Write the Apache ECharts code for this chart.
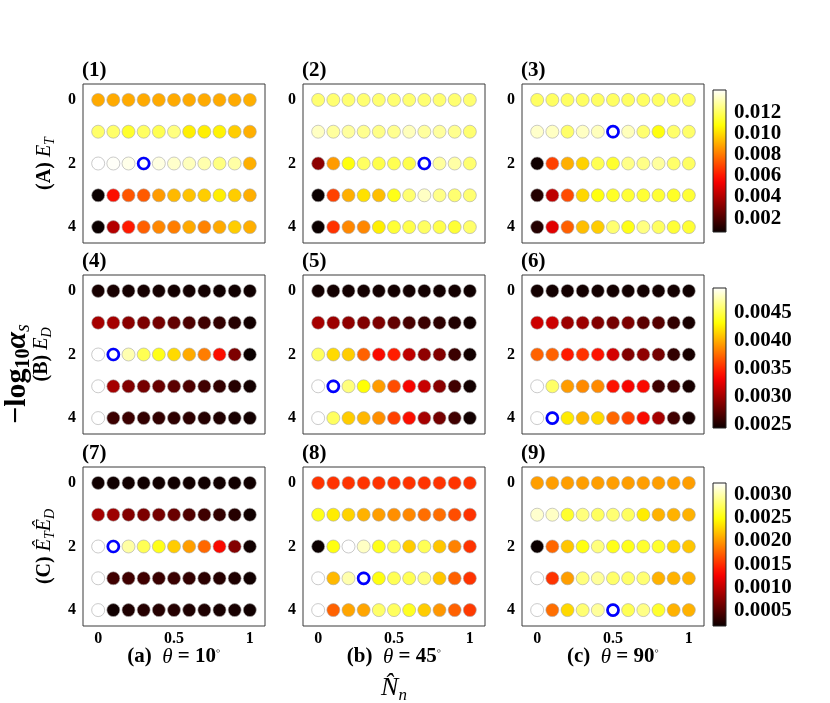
<!DOCTYPE html>
<html><head><meta charset="utf-8">
<script src="https://cdn.jsdelivr.net/npm/echarts@6/dist/echarts.min.js"></script>
<style>html,body{margin:0;padding:0;background:#fff}#c{width:830px;height:703px}</style>
</head><body><div id="c"></div>
<script>
// ---------------- data ----------------
const xValues = [0, 0.1, 0.2, 0.3, 0.4, 0.5, 0.6, 0.7, 0.8, 0.9, 1];
const yValues = [0, 1, 2, 3, 4];

// (1) E_T, theta=10
const p1 = [
  [0.0090,0.0090,0.0090,0.0090,0.0090,0.0090,0.0090,0.0090,0.0090,0.0090,0.0091],
  [0.0121,0.0121,0.0113,0.0120,0.0118,0.0124,0.0104,0.0104,0.0105,0.0097,0.0091],
  [0.0141,0.0140,0.0138,0.0137,0.0137,0.0134,0.0132,0.0130,0.0124,0.0129,0.0091],
  [0.0007,0.0058,0.0073,0.0074,0.0087,0.0093,0.0095,0.0097,0.0104,0.0097,0.0091],
  [0.0007,0.0041,0.0061,0.0075,0.0083,0.0081,0.0090,0.0082,0.0090,0.0097,0.0091]
];
// (2) E_T, theta=45
const p2 = [
  [0.0122,0.0122,0.0122,0.0122,0.0122,0.0122,0.0122,0.0122,0.0122,0.0122,0.0122],
  [0.0133,0.0128,0.0128,0.0126,0.0125,0.0126,0.0132,0.0128,0.0128,0.0126,0.0122],
  [0.0033,0.0087,0.0109,0.0120,0.0117,0.0118,0.0117,0.0134,0.0128,0.0129,0.0122],
  [0.0007,0.0069,0.0091,0.0101,0.0094,0.0110,0.0122,0.0133,0.0125,0.0122,0.0122],
  [0.0007,0.0066,0.0083,0.0083,0.0104,0.0114,0.0117,0.0120,0.0117,0.0114,0.0121]
];
// (3) E_T, theta=90
const p3 = [
  [0.0120,0.0120,0.0120,0.0120,0.0120,0.0120,0.0120,0.0120,0.0120,0.0120,0.0120],
  [0.0134,0.0133,0.0121,0.0133,0.0132,0.0137,0.0132,0.0122,0.0109,0.0121,0.0121],
  [0.0008,0.0069,0.0091,0.0098,0.0118,0.0113,0.0125,0.0125,0.0128,0.0121,0.0120],
  [0.0012,0.0043,0.0071,0.0099,0.0109,0.0112,0.0114,0.0114,0.0114,0.0112,0.0114],
  [0.0012,0.0050,0.0075,0.0094,0.0097,0.0122,0.0110,0.0124,0.0120,0.0114,0.0114]
];
// (4) E_D, theta=10
const p4 = [
  [0.00248,0.00248,0.00247,0.00247,0.00247,0.00246,0.00246,0.00246,0.00245,0.00245,0.00245],
  [0.00301,0.00301,0.00291,0.00286,0.00283,0.00276,0.00268,0.00263,0.00258,0.00253,0.00246],
  [0.00495,0.00495,0.00475,0.00452,0.00437,0.00417,0.00399,0.00382,0.00339,0.00286,0.00243],
  [0.00495,0.00301,0.00288,0.00283,0.00278,0.00273,0.00268,0.00263,0.00258,0.00253,0.00246],
  [0.00495,0.00261,0.00261,0.00258,0.00258,0.00256,0.00256,0.00253,0.00251,0.00248,0.00246]
];
// (5) E_D, theta=45
const p5 = [
  [0.00246,0.00246,0.00246,0.00246,0.00246,0.00246,0.00246,0.00246,0.00246,0.00246,0.00245],
  [0.00301,0.00298,0.00293,0.00288,0.00286,0.00276,0.00266,0.00261,0.00256,0.00251,0.00246],
  [0.00455,0.00417,0.00412,0.00372,0.00336,0.00346,0.00311,0.00293,0.00288,0.00261,0.00246],
  [0.00495,0.00490,0.00462,0.00432,0.00394,0.00364,0.00334,0.00314,0.00291,0.00263,0.00246],
  [0.00495,0.00455,0.00412,0.00404,0.00389,0.00359,0.00339,0.00301,0.00283,0.00263,0.00246]
];
// (6) E_D, theta=90
const p6 = [
  [0.00246,0.00246,0.00246,0.00246,0.00246,0.00246,0.00246,0.00246,0.00246,0.00246,0.00245],
  [0.00316,0.00316,0.00298,0.00298,0.00288,0.00283,0.00286,0.00273,0.00271,0.00258,0.00248],
  [0.00372,0.00372,0.00344,0.00354,0.00341,0.00319,0.00288,0.00293,0.00283,0.00258,0.00248],
  [0.00495,0.00457,0.00394,0.00387,0.00387,0.00341,0.00334,0.00336,0.00263,0.00263,0.00248],
  [0.00495,0.00490,0.00424,0.00402,0.00417,0.00374,0.00359,0.00336,0.00301,0.00263,0.00248]
];
// (7) E_T*E_D, theta=10
const p7 = [
  [0.00021,0.00021,0.00021,0.00021,0.00021,0.00021,0.00021,0.00021,0.00021,0.00021,0.00021],
  [0.00088,0.00085,0.00073,0.00070,0.00067,0.00061,0.00049,0.00042,0.00036,0.00030,0.00021],
  [0.00324,0.00318,0.00296,0.00272,0.00254,0.00223,0.00202,0.00177,0.00131,0.00073,0.00021],
  [0.00324,0.00042,0.00042,0.00042,0.00039,0.00039,0.00036,0.00033,0.00030,0.00027,0.00021],
  [0.00324,0.00021,0.00027,0.00030,0.00030,0.00030,0.00027,0.00027,0.00024,0.00024,0.00021]
];
// (8) E_T*E_D, theta=45
const p8 = [
  [0.00153,0.00153,0.00153,0.00153,0.00153,0.00153,0.00153,0.00153,0.00153,0.00153,0.00153],
  [0.00254,0.00238,0.00226,0.00211,0.00202,0.00195,0.00192,0.00180,0.00180,0.00165,0.00153],
  [0.00018,0.00251,0.00324,0.00306,0.00254,0.00275,0.00223,0.00272,0.00220,0.00189,0.00153],
  [0.00324,0.00214,0.00299,0.00318,0.00251,0.00272,0.00272,0.00284,0.00220,0.00174,0.00153],
  [0.00324,0.00174,0.00205,0.00205,0.00278,0.00275,0.00257,0.00223,0.00199,0.00174,0.00156]
];
// (9) E_T*E_D, theta=90
const p9 = [
  [0.00202,0.00202,0.00202,0.00202,0.00202,0.00202,0.00202,0.00202,0.00202,0.00202,0.00202],
  [0.00309,0.00306,0.00260,0.00284,0.00275,0.00281,0.00275,0.00238,0.00211,0.00211,0.00211],
  [0.00018,0.00177,0.00220,0.00251,0.00284,0.00254,0.00254,0.00260,0.00260,0.00226,0.00220],
  [0.00324,0.00153,0.00202,0.00284,0.00293,0.00278,0.00278,0.00281,0.00211,0.00211,0.00211],
  [0.00324,0.00180,0.00229,0.00281,0.00293,0.00309,0.00272,0.00287,0.00260,0.00211,0.00211]
];
const panels = [p1, p2, p3, p4, p5, p6, p7, p8, p9];

// best point (blue ring) per panel: [x, y]
const bestPoints = [[0.3,2],[0.7,2],[0.5,1],[0.1,2],[0.1,3],[0.1,4],[0.1,2],[0.3,3],[0.5,4]];

// colour bar ranges and tick labels per row
const cbRanges = [[0.0007, 0.0141], [0.00243, 0.00495], [0.00018, 0.00324]];
const cbTicks = [
  [0.002, 0.004, 0.006, 0.008, 0.010, 0.012],
  [0.0025, 0.0030, 0.0035, 0.0040, 0.0045],
  [0.0005, 0.0010, 0.0015, 0.0020, 0.0025, 0.0030]
];
const cbDecimals = [3, 4, 4];
const xTicks = [0, 0.5, 1];
const yTicks = [0, 2, 4];
const panelTags = ['(1)','(2)','(3)','(4)','(5)','(6)','(7)','(8)','(9)'];
const colAngles = ['10', '45', '90'];
const colTags = ['(a)', '(b)', '(c)'];

// ---------------- styling ----------------
const FONT = "'Liberation Serif','Times New Roman',serif";
// matplotlib "hot" colormap sampled every 0.05
const HOT = ['#0b0000','#2c0000','#4e0000','#6f0000','#900000','#b20000','#d30000','#f50000',
  '#ff1700','#ff3900','#ff5a00','#ff7c00','#ff9d00','#ffbf00','#ffe000','#ffff04',
  '#ffff36','#ffff68','#ffff9b','#ffffcd','#ffffff'];

const colLeft = [83, 303, 522];
const rowTop = [84, 275, 467];
const PW = 182, PH = 159;
const cbTop = [90, 288, 483];
const cbH = [142, 140, 143];

const grids = [], xAxes = [], yAxes = [], series = [], visualMaps = [];
for (let r = 0; r < 3; r++) {
  for (let c = 0; c < 3; c++) {
    const gi = r * 3 + c;
    grids.push({left: colLeft[c], top: rowTop[r], width: PW, height: PH,
      show: true, borderColor: '#3a3a3a', borderWidth: 1, backgroundColor: 'transparent'});
    xAxes.push({type: 'value', gridIndex: gi, min: -0.1, max: 1.1,
      splitLine: {show: false}, axisLine: {show: false},
      axisTick: {show: true, length: 4, customValues: xTicks, lineStyle: {color: '#444'}},
      axisLabel: {show: r === 2, customValues: xTicks, margin: 5, color: '#000',
        fontFamily: FONT, fontWeight: 'bold', fontSize: 16}});
    yAxes.push({type: 'value', gridIndex: gi, min: -0.5, max: 4.5, inverse: true,
      splitLine: {show: false}, axisLine: {show: false},
      axisTick: {show: true, length: 4, customValues: yTicks, lineStyle: {color: '#444'}},
      axisLabel: {show: true, customValues: yTicks, margin: 7, color: '#000',
        fontFamily: FONT, fontWeight: 'bold', fontSize: 16}});
  }
}
// colour bar grids
for (let r = 0; r < 3; r++) {
  const gi = 9 + r;
  const dec = cbDecimals[r];
  grids.push({left: 713, top: cbTop[r], width: 13, height: cbH[r], show: false});
  xAxes.push({type: 'value', gridIndex: gi, min: 0, max: 1, show: false});
  yAxes.push({type: 'value', gridIndex: gi, min: cbRanges[r][0], max: cbRanges[r][1],
    position: 'right', splitLine: {show: false}, axisLine: {show: false},
    axisTick: {show: true, length: 4, customValues: cbTicks[r], lineStyle: {color: '#000'}},
    axisLabel: {show: true, customValues: cbTicks[r], margin: 8, color: '#000',
      fontFamily: FONT, fontWeight: 'bold', fontSize: 21,
      formatter: v => Number(v).toFixed(dec)}});
}

// scatter series
panels.forEach((p, gi) => {
  const data = [];
  p.forEach((row, ri) => row.forEach((v, ci) => data.push([xValues[ci], yValues[ri], v])));
  series.push({type: 'scatter', xAxisIndex: gi, yAxisIndex: gi, data: data,
    symbol: 'circle', symbolSize: 13, silent: true,
    itemStyle: {borderColor: '#a8a8a8', borderWidth: 0.6, opacity: 1}});
});
// best rings
bestPoints.forEach((b, gi) => {
  series.push({type: 'scatter', xAxisIndex: gi, yAxisIndex: gi, data: [b], z: 5,
    symbol: 'circle', symbolSize: 11, silent: true,
    itemStyle: {color: '#ffffff', borderColor: '#0000ff', borderWidth: 2.7, opacity: 1}});
});
// colour bars
for (let r = 0; r < 3; r++) {
  const gi = 9 + r;
  const stops = HOT.map((col, i) => ({offset: i / (HOT.length - 1), color: col}));
  series.push({type: 'custom', xAxisIndex: gi, yAxisIndex: gi, silent: true,
    data: [[0, cbRanges[r][0], 1, cbRanges[r][1]]],
    renderItem: (params, api) => {
      const p0 = api.coord([api.value(0), api.value(1)]);
      const p1c = api.coord([api.value(2), api.value(3)]);
      return {type: 'rect',
        shape: {x: p0[0], y: p1c[1], width: p1c[0] - p0[0], height: p0[1] - p1c[1]},
        style: {fill: new echarts.graphic.LinearGradient(0, 1, 0, 0, stops),
          stroke: '#222', lineWidth: 1}};
    }});
  visualMaps.push({type: 'continuous', show: false, dimension: 2,
    min: cbRanges[r][0], max: cbRanges[r][1], seriesIndex: [r * 3, r * 3 + 1, r * 3 + 2],
    inRange: {color: HOT}});
}

// ---------------- text ----------------
const graphics = [];
function txt(x, y, text, opts) {
  graphics.push(Object.assign({type: 'text', x: x, y: y, silent: true,
    style: Object.assign({text: text, fill: '#000', align: 'center', verticalAlign: 'middle',
      textAlign: 'center', textVerticalAlign: 'middle'}, opts.style || {})}, opts.el || {}));
}
for (let r = 0; r < 3; r++) for (let c = 0; c < 3; c++) {
  txt(colLeft[c] - 1, rowTop[r] - 13, panelTags[r * 3 + c],
    {style: {font: 'bold 21px ' + FONT, align: 'left', textAlign: 'left'}});
}
const rich = {
  b: {fontFamily: FONT, fontWeight: 'bold', fontSize: 20, lineHeight: 24, fill: '#000', color: '#000'},
  c: {fontFamily: FONT, fontWeight: 'bold', fontSize: 21, lineHeight: 24, fill: '#000', color: '#000'},
  i: {fontFamily: FONT, fontStyle: 'italic', fontSize: 20, lineHeight: 24, fill: '#000', color: '#000'},
  ci: {fontFamily: FONT, fontStyle: 'italic', fontSize: 21, lineHeight: 24, fill: '#000', color: '#000'},
  s: {fontFamily: FONT, fontStyle: 'italic', fontSize: 14, verticalAlign: 'bottom', fill: '#000', color: '#000'},
  B: {fontFamily: FONT, fontWeight: 'bold', fontSize: 30, lineHeight: 33, fill: '#000', color: '#000'},
  I: {fontFamily: FONT, fontStyle: 'italic', fontWeight: 'bold', fontSize: 30, lineHeight: 33, fill: '#000', color: '#000'},
  BS: {fontFamily: FONT, fontWeight: 'bold', fontSize: 20, verticalAlign: 'bottom', fill: '#000', color: '#000'},
  IS: {fontFamily: FONT, fontStyle: 'italic', fontSize: 20, verticalAlign: 'bottom', fill: '#000', color: '#000'},
  N: {fontFamily: FONT, fontStyle: 'italic', fontSize: 26, lineHeight: 32, fill: '#000', color: '#000'},
  NS: {fontFamily: FONT, fontStyle: 'italic', fontSize: 17, verticalAlign: 'bottom', fill: '#000', color: '#000'},
  sup: {fontFamily: FONT, fontWeight: 'bold', fontSize: 13, verticalAlign: 'top', fill: '#000', color: '#000'}
};
const rowLabelText = [
  '{b|(A) }{i|E}{s|T}',
  '{b|(B) }{i|E}{s|D}',
  '{b|(C) }{i|\u00CA}{s|T}{i|\u00CA}{s|D}'
];
const rowLabelX = [45, 42, 45];
rowLabelText.forEach((t, r) => {
  txt(rowLabelX[r], rowTop[r] + PH / 2, t, {style: {rich: rich}, el: {rotation: Math.PI / 2}});
});
txt(17, 374, '{B|\u2212log}{BS|10}{I|\u03B1}{IS|s}', {style: {rich: rich}, el: {rotation: Math.PI / 2}});
for (let c = 0; c < 3; c++) {
  txt(colLeft[c] + PW / 2, 657, '{c|' + colTags[c] + '  }{ci|\u03B8}{c| = ' + colAngles[c] + '}{sup|\u25E6}',
    {style: {rich: rich}});
}
txt(colLeft[1] + PW / 2, 688, '{N|N\u0302}{NS|n}', {style: {rich: rich}});

const chart = echarts.init(document.getElementById('c'), null, {renderer: 'canvas'});
chart.setOption({
  animation: false,
  backgroundColor: '#ffffff',
  grid: grids, xAxis: xAxes, yAxis: yAxes,
  visualMap: visualMaps,
  series: series,
  graphic: {elements: graphics}
});
</script></body></html>
